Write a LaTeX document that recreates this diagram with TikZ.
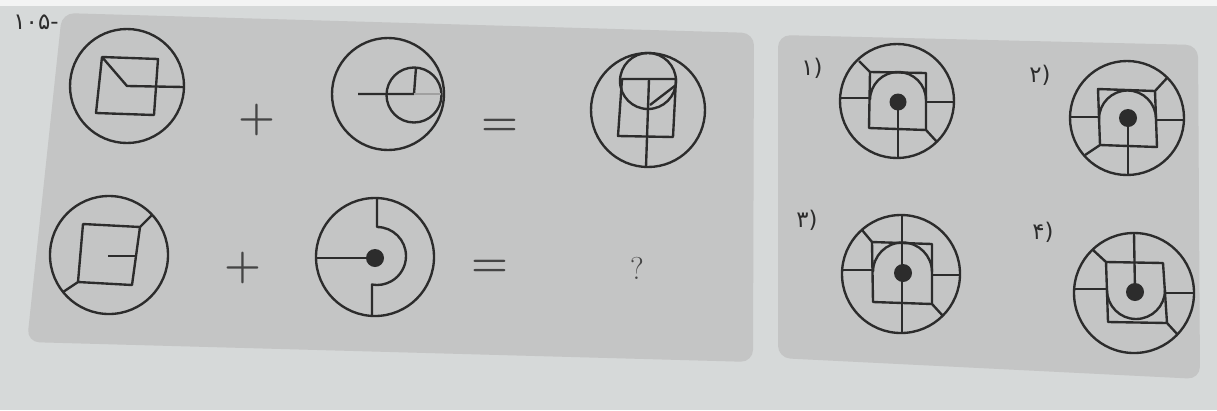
\documentclass[tikz,border=0pt]{standalone}
\usepackage{fontspec}
\newfontfamily\fa{DejaVu Sans}
\definecolor{bg}{HTML}{D6D9D9}
\definecolor{panel}{HTML}{C4C5C5}
\definecolor{ink}{HTML}{2C2C2C}
\definecolor{signc}{HTML}{454545}
\begin{document}
\begin{tikzpicture}[x=0.02cm,y=-0.02cm,
  fig/.style={draw=ink,line width=1.35pt,line join=round},
  faint/.style={draw=ink!45,line width=0.9pt},
  dotc/.style={fill=ink},
  sign/.style={text=signc,font=\bfseries\fontsize{24}{24}\selectfont,inner sep=0pt},
  qmark/.style={text=signc,font=\fontsize{18}{18}\selectfont,inner sep=0pt},
  optlabel/.style={text=ink,font=\fa\fontsize{13}{13}\selectfont,inner sep=0pt},
  panelbox/.style={fill=panel,rounded corners=7pt}]
\useasboundingbox (0,0) rectangle (1217,410);
\fill[bg] (0,0) rectangle (1217,410);
\fill[white!70!bg] (0,0) rectangle (1217,6);
% panels
\path[panelbox] (62,13) -- (754,33) -- (753,362) -- (27,342) -- cycle;
\path[panelbox] (778,35) -- (1198,45) -- (1200,379) -- (778,358) -- cycle;
% question number
\node[optlabel] (qnum) at (36,22) {۱۰۵-};
% ---------- row 1 ----------
% figure 1
\draw[fig] (127,86) circle (57);
\draw[fig] (102,57) -- (158,59) -- (154,115) -- (96,113) -- cycle;
\draw[fig] (102,57) -- (127,86) -- (184,87);
\node[sign] (plusA) at (257,120) {+};
% figure 2
\draw[fig] (388,94) circle (56);
\draw[fig] (414,95) circle (27.5);
\draw[fig] (358,94) -- (414,94) -- (416,67.5);
\draw[faint] (414,94) -- (441,94);
\node[sign] (eqA) at (500,127) {=};
% figure 3
\draw[fig] (648,110) circle (57);
\draw[fig] (648,81) circle (28);
\draw[fig] (622,79) -- (676,79) -- (673,137) -- (618,136) -- cycle;
\draw[fig] (649,79) -- (646,167);
\draw[fig] (650,105) -- (676,85);
% ---------- row 2 ----------
% figure 4
\draw[fig] (109,255) circle (59);
\draw[fig] (83,224) -- (140,227) -- (132,285) -- (78,282) -- cycle;
\draw[fig] (140,227) -- (152,215);
\draw[fig] (78,282) -- (63,292);
\draw[fig] (108,256) -- (136,256);
\node[sign] (plusB) at (243,268) {+};
% figure 5
\draw[fig] (375,257) circle (59);
\fill[dotc] (375,258) circle (9);
\draw[fig] (316,258) -- (375,258);
\draw[fig] (377,198) -- (377,227) arc[start angle=-90,end angle=100,radius=29] -- (372,316);
\node[sign] (eqB) at (490,268) {=};
\node[qmark] (ques) at (637,268) {?};
% ---------- options ----------
% option 1
\node[optlabel] (lab1) at (812,68) {۱)};
\draw[fig] (897,101) circle (57);
\draw[fig] (870,72) -- (926,73) -- (926,130) -- (869,128) -- cycle;
\draw[fig] (870,100) arc[start angle=180,end angle=360,radius=28];
\fill[dotc] (898,102) circle (8.5);
\draw[fig] (898,102) -- (898,158);
\draw[fig] (870,72) -- (859,61);
\draw[fig] (869,98) -- (840,98);
\draw[fig] (926,102) -- (954,102);
\draw[fig] (926,130) -- (937,142);
% option 2
\node[optlabel] (lab2) at (1040,75) {۲)};
\draw[fig] (1127,118) circle (57);
\draw[fig] (1098,89) -- (1155,91) -- (1157,147) -- (1100,145) -- cycle;
\draw[fig] (1099,119) arc[start angle=180,end angle=360,radius=28.5];
\fill[dotc] (1128,118) circle (9);
\draw[fig] (1128,118) -- (1128,175);
\draw[fig] (1155,91) -- (1167,78);
\draw[fig] (1099,117) -- (1070,117);
\draw[fig] (1156,120) -- (1184,120);
\draw[fig] (1100,145) -- (1085,155);
% option 3
\node[optlabel] (lab3) at (807,220) {۳)};
\draw[fig] (901,274) circle (59);
\draw[fig] (872,242) -- (932,244) -- (932,304) -- (873,302) -- cycle;
\draw[fig] (873,272) arc[start angle=180,end angle=360,radius=29.5];
\fill[dotc] (903,273) circle (9);
\draw[fig] (902,215) -- (902,333);
\draw[fig] (872,242) -- (862,230);
\draw[fig] (873,270) -- (842,270);
\draw[fig] (932,275) -- (960,275);
\draw[fig] (932,304) -- (943,316);
% option 4
\node[optlabel] (lab4) at (1043,232) {۴)};
\draw[fig] (1134,293) circle (60);
\draw[fig] (1106,262) -- (1163,263) -- (1167,323) -- (1108,322) -- cycle;
\draw[fig] (1107,290) arc[start angle=180,end angle=0,radius=29];
\fill[dotc] (1135,292) circle (9);
\draw[fig] (1135,292) -- (1134,233);
\draw[fig] (1106,262) -- (1093,250);
\draw[fig] (1106,289) -- (1074,289);
\draw[fig] (1165,293) -- (1194,293);
\draw[fig] (1167,323) -- (1178,335);
\end{tikzpicture}
\end{document}
